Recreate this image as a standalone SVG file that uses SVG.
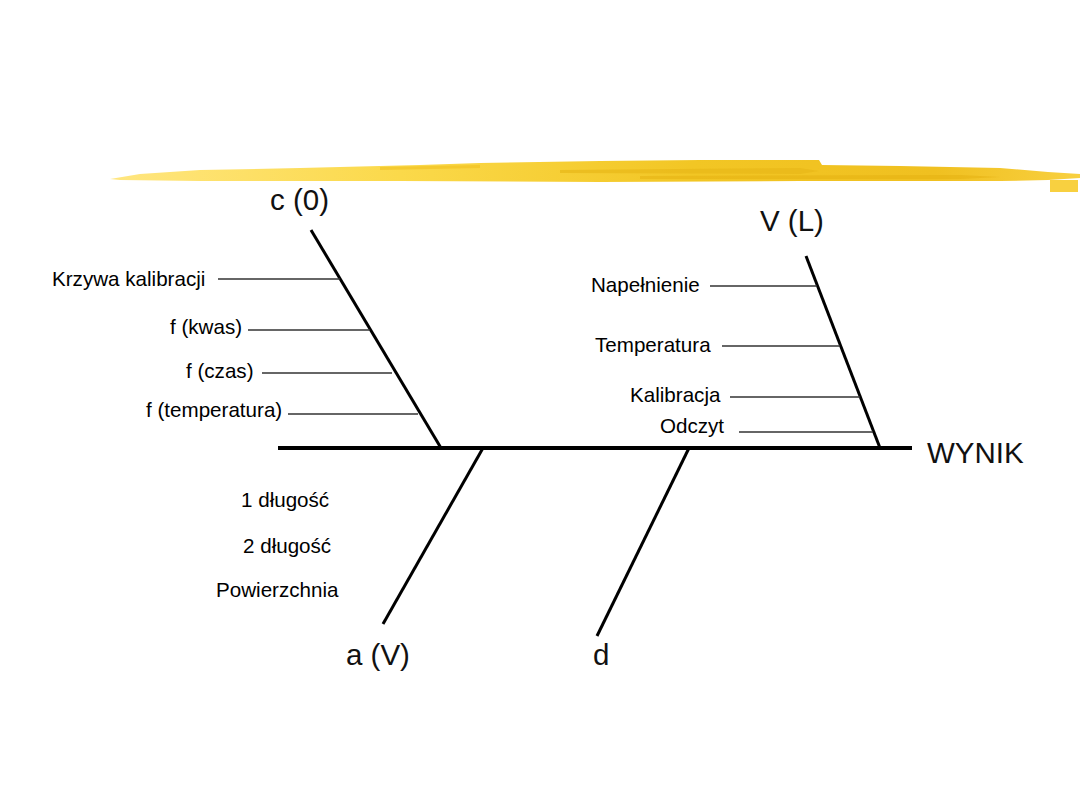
<svg xmlns="http://www.w3.org/2000/svg" width="1080" height="810" viewBox="0 0 1080 810">
<defs>
<style>
.sm{font-family:"Liberation Sans",Arial,sans-serif;font-size:20.6px;fill:#000}
.lg{font-family:"Liberation Sans",Arial,sans-serif;font-size:29.5px;fill:#111}
.tick{stroke:#333;stroke-width:1.4}
.bone{stroke:#000;stroke-width:3;stroke-linecap:butt}
.spine{stroke:#000;stroke-width:4}
</style>
<linearGradient id="brush" x1="0" y1="0" x2="1" y2="0">
<stop offset="0" stop-color="#FFE680"/>
<stop offset="0.3" stop-color="#FBD94A"/>
<stop offset="0.6" stop-color="#F2C624"/>
<stop offset="0.85" stop-color="#F0C020"/>
<stop offset="1" stop-color="#F8D040"/>
</linearGradient>
</defs>
<rect width="1080" height="810" fill="#fff"/>
<g id="brush-stroke">
<path d="M110 179 L140 174 L200 170 L300 168 L420 165 L480 163 L600 161 L700 160 L819 160 L822 165 L900 166 L1000 168 L1048 172 L1080 174 L1080 178 L1048 180 L1000 181 L800 181 L600 182 L400 181 L200 181 L120 180 Z" fill="url(#brush)"/>
<rect x="1050" y="180" width="28" height="12" fill="#F8D040"/>
<path d="M560 170 L800 168 L819 171 L800 174 L560 173 Z" fill="#E8B818" opacity="0.7"/>
<path d="M640 176 L960 175 L1000 177 L960 179 L640 179 Z" fill="#E4B010" opacity="0.5"/>
<path d="M380 167 L480 165 L480 168 L380 170 Z" fill="#F0C020" opacity="0.6"/>
</g>
<g id="connectors">
<line class="spine" x1="278" y1="448" x2="912" y2="448"/>
<line class="bone" x1="311" y1="230" x2="441" y2="448"/>
<line class="bone" x1="806" y1="256" x2="880" y2="448"/>
<line class="bone" x1="483" y1="448" x2="383" y2="624"/>
<line class="bone" x1="689" y1="448" x2="597" y2="636"/>
<line class="tick" x1="218" y1="279" x2="340" y2="279"/>
<line class="tick" x1="248" y1="330" x2="370" y2="330"/>
<line class="tick" x1="262" y1="373" x2="392" y2="373"/>
<line class="tick" x1="288" y1="414" x2="418" y2="414"/>
<line class="tick" x1="710" y1="286" x2="817" y2="286"/>
<line class="tick" x1="722" y1="346" x2="840" y2="346"/>
<line class="tick" x1="730" y1="397" x2="860" y2="397"/>
<line class="tick" x1="739" y1="432" x2="873" y2="432"/>
</g>
<g id="node-c0"><text class="lg" x="270" y="210">c (0)</text></g>
<g id="node-VL"><text class="lg" x="760" y="231">V (L)</text></g>
<g id="node-aV"><text class="lg" x="346" y="665">a (V)</text></g>
<g id="node-d"><text class="lg" x="593" y="665">d</text></g>
<g id="node-wynik"><text class="lg" x="927" y="463">WYNIK</text></g>
<g id="cause-krzywa"><text class="sm" x="52" y="286">Krzywa kalibracji</text></g>
<g id="cause-kwas"><text class="sm" x="170" y="334">f (kwas)</text></g>
<g id="cause-czas"><text class="sm" x="186" y="378">f (czas)</text></g>
<g id="cause-temp"><text class="sm" x="146" y="417">f (temperatura)</text></g>
<g id="cause-napelnienie"><text class="sm" x="591" y="292">Napełnienie</text></g>
<g id="cause-temperatura"><text class="sm" x="595" y="352">Temperatura</text></g>
<g id="cause-kalibracja"><text class="sm" x="630" y="402">Kalibracja</text></g>
<g id="cause-odczyt"><text class="sm" x="660" y="433">Odczyt</text></g>
<g id="cause-dl1"><text class="sm" x="241" y="507">1 długość</text></g>
<g id="cause-dl2"><text class="sm" x="243" y="553">2 długość</text></g>
<g id="cause-pow"><text class="sm" x="216" y="597">Powierzchnia</text></g>
</svg>
